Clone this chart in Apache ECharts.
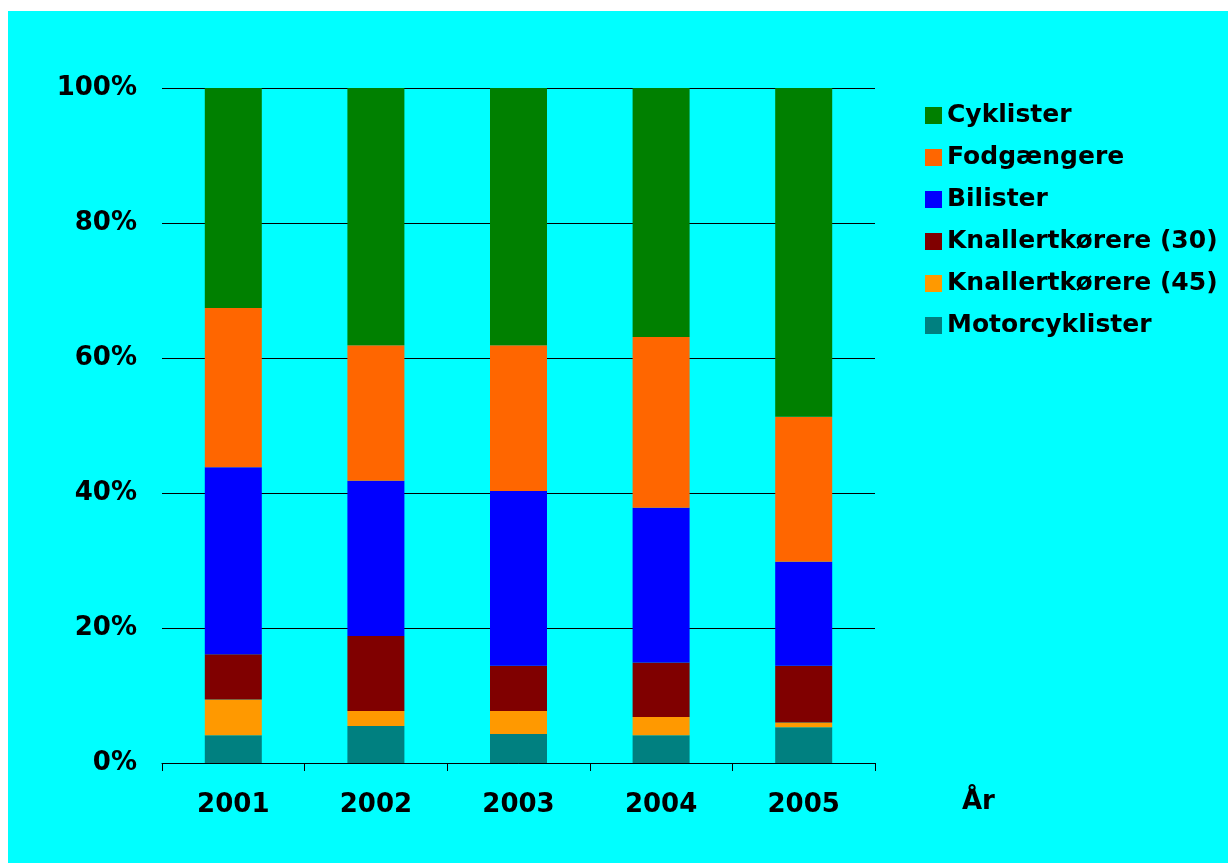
<!DOCTYPE html>
<html>
<head>
<meta charset="utf-8">
<script src="https://cdn.jsdelivr.net/npm/echarts@6/dist/echarts.min.js"></script>
<style>
  html, body { margin: 0; padding: 0; background: #ffffff; }
  #bg { position: absolute; left: 8px; top: 11px; width: 1220px; height: 852px; background: #00FFFF; }
  #chart { position: absolute; left: 0; top: 0; width: 1228px; height: 863px; }
</style>
</head>
<body>
<div id="bg"></div>
<div id="chart"></div>
<script>
const years = ['2001', '2002', '2003', '2004', '2005'];
const motorcyklister = [4.1, 5.5, 4.3, 4.1, 5.3];
const knallert45 = [5.3, 2.2, 3.4, 2.7, 0.7];
const knallert30 = [6.7, 11.1, 6.7, 8.1, 8.4];
const bilister = [27.7, 23.0, 25.9, 22.9, 15.4];
const fodgaengere = [23.6, 20.1, 21.6, 25.3, 21.5];
const cyklister = [32.6, 38.1, 38.1, 36.9, 48.7];
const yTicks = [0, 20, 40, 60, 80, 100];

const FONT = '"DejaVu Sans", Verdana, sans-serif';
const seriesDefs = [
  { name: 'Motorcyklister', data: motorcyklister, color: '#008080' },
  { name: 'Knallertkørere (45)', data: knallert45, color: '#FF9900' },
  { name: 'Knallertkørere (30)', data: knallert30, color: '#800000' },
  { name: 'Bilister', data: bilister, color: '#0000FF' },
  { name: 'Fodgængere', data: fodgaengere, color: '#FF6600' },
  { name: 'Cyklister', data: cyklister, color: '#008000' }
];

const chart = echarts.init(document.getElementById('chart'), null, { renderer: 'canvas' });
chart.setOption({
  backgroundColor: 'transparent',
  animation: false,
  textStyle: { fontFamily: FONT },
  grid: { left: 162, right: 1228 - 875, top: 88, bottom: 863 - 763, containLabel: false },
  legend: {
    orient: 'vertical',
    left: 920,
    top: 98,
    itemWidth: 17,
    itemHeight: 17,
    itemGap: 17,
    icon: 'rect',
    data: ['Cyklister', 'Fodgængere', 'Bilister', 'Knallertkørere (30)', 'Knallertkørere (45)', 'Motorcyklister'],
    textStyle: { fontFamily: FONT, fontWeight: 'bold', fontSize: 25, color: '#000', lineHeight: 17 }
  },
  xAxis: {
    type: 'category',
    data: years,
    name: 'År',
    nameLocation: 'end',
    nameGap: 87,
    nameTextStyle: { fontFamily: FONT, fontWeight: 'bold', fontSize: 26, color: '#000', align: 'left', verticalAlign: 'top', padding: [26, 0, 0, 0] },
    axisLine: { show: true, lineStyle: { color: '#000', width: 1 } },
    axisTick: { show: true, length: 8, lineStyle: { color: '#000' } },
    axisLabel: { fontFamily: FONT, fontWeight: 'bold', fontSize: 26, color: '#000', margin: 29 },
    splitLine: { show: false }
  },
  yAxis: {
    type: 'value',
    min: yTicks[0],
    max: yTicks[yTicks.length - 1],
    interval: 20,
    axisLine: { show: false },
    axisTick: { show: false },
    axisLabel: { fontFamily: FONT, fontWeight: 'bold', fontSize: 26, color: '#000', margin: 25, formatter: '{value}%' },
    splitLine: { show: true, lineStyle: { color: '#000', width: 1 } }
  },
  series: seriesDefs.map(s => ({
    name: s.name,
    type: 'bar',
    stack: 'total',
    barWidth: 57,
    data: s.data,
    itemStyle: { color: s.color },
    emphasis: { disabled: true }
  }))
});
</script>
</body>
</html>
